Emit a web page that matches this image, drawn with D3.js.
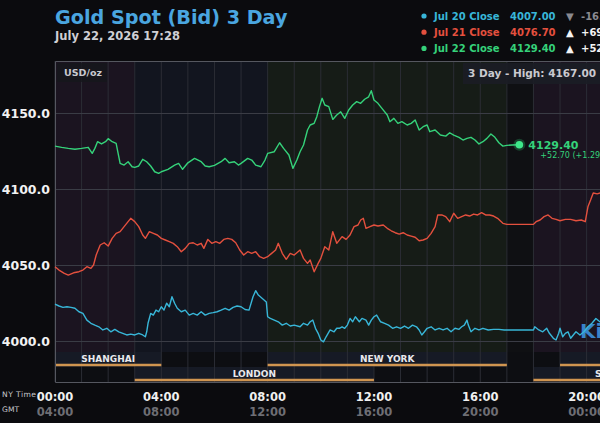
<!DOCTYPE html>
<html>
<head>
<meta charset="utf-8">
<script src="https://cdn.jsdelivr.net/npm/d3@7"></script>
<style>
  body { margin: 0; background: #0b0b0e; }
  svg { display: block; font-family: "DejaVu Sans", sans-serif; }
</style>
</head>
<body>
<svg id="chart" width="600" height="423"></svg>
<script>
// ---- data (hours are NY time since 00:00) ----
const jul20 = [[0,4024.4],[0.15,4023.1],[0.3,4022.2],[0.45,4022.6],[0.6,4022.2],[0.75,4021.6],[0.9,4019.3],[1.05,4018.2],[1.2,4013.8],[1.35,4011.7],[1.5,4010.5],[1.65,4009.4],[1.8,4007.3],[1.95,4008.4],[2.1,4006.1],[2.25,4007.7],[2.4,4006.1],[2.55,4005.1],[2.7,4004],[2.85,4004.6],[3,4004],[3.15,4005.1],[3.3,4004],[3.4,4002.8],[3.45,4006.1],[3.5,4011.7],[3.6,4018.2],[3.7,4017.1],[3.8,4020.4],[3.9,4019.3],[4,4022.6],[4.1,4020.4],[4.2,4024.9],[4.3,4022.6],[4.4,4029.2],[4.5,4024.9],[4.6,4021.6],[4.75,4019.3],[4.9,4020.4],[5.05,4017.1],[5.2,4018.2],[5.35,4017.1],[5.5,4019.3],[5.65,4017.1],[5.8,4018.2],[5.95,4018.7],[6.1,4019.3],[6.25,4020.4],[6.4,4021.6],[6.55,4020.4],[6.7,4022.2],[6.85,4023.1],[7,4022.6],[7.15,4020.8],[7.3,4020.4],[7.45,4029.2],[7.55,4033.2],[7.65,4030.3],[7.8,4028.1],[7.95,4025.8],[8,4016],[8.1,4014.9],[8.25,4013.8],[8.4,4012.7],[8.55,4010.5],[8.7,4011.7],[8.85,4009.9],[9,4010.5],[9.22,4009.4],[9.35,4011.7],[9.5,4010.5],[9.6,4012.7],[9.7,4013.8],[9.8,4008.4],[9.9,4005.1],[10,4000.7],[10.1,3999.5],[10.2,4002.8],[10.35,4007.3],[10.5,4006.1],[10.6,4008.4],[10.7,4008.4],[10.8,4009.4],[10.9,4008.4],[11,4010.5],[11.1,4014.9],[11.2,4012.7],[11.3,4016],[11.45,4012.7],[11.55,4014.9],[11.7,4013.8],[11.8,4010.5],[11.9,4013.8],[12,4016],[12.1,4017.1],[12.25,4012.7],[12.4,4011.7],[12.55,4010.5],[12.7,4008.4],[12.85,4009.4],[13,4008.4],[13.15,4009.9],[13.3,4008.4],[13.45,4010.5],[13.6,4009.4],[13.7,4007.3],[13.8,4004],[13.9,4006.1],[14,4008.4],[14.15,4009.4],[14.3,4007.3],[14.45,4008.4],[14.6,4007.3],[14.75,4008.4],[14.9,4006.1],[15.05,4008.4],[15.2,4007.7],[15.3,4009.4],[15.4,4010.5],[15.5,4013.8],[15.55,4010.5],[15.65,4006.1],[15.8,4008.4],[15.95,4007.3],[16.1,4008.4],[16.3,4007.3],[16.5,4007.7],[16.7,4007.7],[16.9,4007.3],[18,4007.3],[18.05,4009.4],[18.2,4007.3],[18.35,4006.1],[18.5,4008.4],[18.6,4005.1],[18.75,4001.8],[18.85,4000.7],[18.95,4005.1],[19,4008.4],[19.1,4002.8],[19.2,4005.1],[19.3,4006.1],[19.4,4001.8],[19.5,4004],[19.6,4006.1],[19.75,4004],[19.9,4006.1],[20.05,4009.4],[20.2,4011.7],[20.35,4014.9],[20.5,4012.7],[20.7,4013.5]];

const jul21 = [[0,4049],[0.15,4046.8],[0.35,4044.6],[0.5,4043.5],[0.7,4045],[0.9,4045.7],[1.05,4046.8],[1.2,4049],[1.35,4047.9],[1.45,4050.1],[1.55,4056.7],[1.7,4063.3],[1.85,4064.8],[2,4062.6],[2.15,4067.7],[2.3,4071],[2.45,4072.1],[2.6,4075.4],[2.75,4078.7],[2.85,4080.9],[3,4078.7],[3.15,4075.4],[3.3,4069.9],[3.4,4067.7],[3.55,4072.1],[3.7,4071],[3.85,4069.9],[4,4067.7],[4.15,4066.6],[4.3,4065.5],[4.45,4064.4],[4.6,4062.2],[4.75,4058.9],[4.9,4061.1],[5.05,4064.4],[5.2,4064.8],[5.35,4063.3],[5.5,4064.4],[5.6,4061.1],[5.75,4067],[5.9,4064.4],[6.05,4065.5],[6.2,4064.4],[6.35,4067],[6.5,4067.7],[6.65,4067],[6.8,4064.8],[6.95,4060],[7.1,4056.7],[7.25,4058.9],[7.4,4057.8],[7.55,4058.9],[7.7,4055.6],[7.85,4054.5],[8,4055.6],[8.15,4057.8],[8.3,4060],[8.4,4064.4],[8.55,4057.8],[8.7,4053.9],[8.85,4057.8],[9,4056.7],[9.22,4060],[9.35,4054.5],[9.5,4051.2],[9.6,4053.4],[9.75,4045.7],[9.9,4051.2],[10,4054.5],[10.15,4062.2],[10.3,4060],[10.45,4072.1],[10.6,4064.4],[10.8,4068.8],[10.95,4067],[11.1,4069.9],[11.25,4075.4],[11.4,4076.5],[11.5,4079.8],[11.6,4080.9],[11.7,4074.3],[11.85,4075.4],[12,4076.5],[12.15,4075.8],[12.35,4076.5],[12.5,4074.3],[12.65,4072.7],[12.8,4071.4],[12.95,4070.5],[13.1,4071.4],[13.25,4069.9],[13.4,4069.2],[13.55,4068.4],[13.7,4066.1],[13.85,4066.6],[14,4067.7],[14.15,4071],[14.3,4075.4],[14.4,4083.1],[14.55,4083.1],[14.7,4082],[14.85,4078.7],[15,4084.2],[15.15,4080.9],[15.3,4082],[15.45,4083.1],[15.6,4082.4],[15.75,4083.7],[15.9,4083.1],[16.05,4084.6],[16.2,4083.1],[16.35,4083.1],[16.5,4082.4],[16.65,4080.9],[16.85,4077.6],[17,4076.9],[18,4076.9],[18.1,4078.7],[18.25,4079.8],[18.4,4082],[18.55,4083.1],[18.7,4080.9],[18.85,4080.2],[19,4079.3],[19.2,4080.2],[19.4,4080.2],[19.6,4079.3],[19.8,4079.8],[19.95,4078.7],[20.05,4088.5],[20.15,4092.9],[20.25,4097.6],[20.4,4097],[20.6,4098],[20.8,4097.5]];

const jul22 = [[0,4128.5],[0.25,4127.7],[0.5,4127],[0.75,4126.4],[1,4127],[1.25,4127.7],[1.4,4123.7],[1.5,4127],[1.6,4131.4],[1.75,4129.9],[1.9,4131.4],[2,4133.4],[2.15,4131.4],[2.3,4130.3],[2.45,4117.1],[2.6,4116],[2.75,4118.2],[2.9,4114.9],[3,4114.5],[3.15,4115.4],[3.3,4119.8],[3.45,4118.2],[3.6,4115.4],[3.75,4111.6],[3.9,4110.5],[4,4111.6],[4.25,4113.2],[4.5,4116],[4.65,4117.1],[4.8,4113.2],[5,4117.5],[5.25,4120.4],[5.5,4118.2],[5.65,4115.4],[5.8,4114.9],[6,4115.8],[6.25,4118.2],[6.4,4120.4],[6.55,4117.5],[6.75,4118.2],[6.9,4116],[7,4117.1],[7.25,4120.4],[7.4,4119.3],[7.55,4116],[7.75,4114.9],[7.9,4119.3],[8,4123.7],[8.25,4124.8],[8.45,4130.7],[8.6,4127],[8.8,4122.6],[8.95,4113.8],[9.1,4119.3],[9.22,4124.8],[9.35,4129.2],[9.5,4139.1],[9.6,4142.4],[9.75,4143.5],[9.85,4147.9],[9.95,4154.5],[10.05,4160],[10.15,4155.6],[10.3,4154.5],[10.45,4146.1],[10.6,4149],[10.75,4151.1],[10.9,4146.8],[11.05,4152.3],[11.2,4155.6],[11.35,4157.8],[11.5,4156.7],[11.65,4159.4],[11.8,4161],[11.9,4165],[12,4158.9],[12.15,4156.7],[12.3,4153.4],[12.5,4149],[12.6,4144.6],[12.75,4146.8],[12.9,4143.5],[13.05,4144.6],[13.25,4142.4],[13.4,4143.5],[13.55,4145.7],[13.7,4139.1],[13.85,4141.3],[14,4142.4],[14.1,4138],[14.3,4139.1],[14.5,4135.8],[14.7,4135.1],[14.85,4137.3],[15,4135.8],[15.2,4134.3],[15.35,4132.5],[15.5,4133.6],[15.65,4134.3],[15.8,4132.5],[15.95,4129.9],[16.1,4131.4],[16.25,4133.6],[16.4,4136.5],[16.55,4134.3],[16.7,4130.7],[16.85,4128.5],[17,4129],[17.2,4129.2],[17.47,4129.4]];

const seriesNames = ["Jul 20 Close", "Jul 21 Close", "Jul 22 Close"];
const closes = [4007.00, 4076.70, 4129.40];
const prevClose = 4023.00;
const yTicks = [4000, 4050, 4100, 4150];
const xTicks = [0, 4, 8, 12, 16, 20];
const gmtOffset = 4;
const threeDayHigh = 4167.00;

// background periods and trading sessions (hours)
const periods = [
  { from: 0, to: 3, kind: "asia" },
  { from: 3, to: 8, kind: "london" },
  { from: 8, to: 17, kind: "ny" },
  { from: 17, to: 18, kind: "closed" },
  { from: 18, to: 24, kind: "asia" }
];
const sessions = [
  { name: "SHANGHAI", from: 0, to: 4, lane: 0, at: 2 },
  { name: "LONDON", from: 3, to: 12, lane: 1, at: 7.5 },
  { name: "NEW YORK", from: 8, to: 17, lane: 0, at: 12.5 },
  { name: "SHANGHAI", from: 19, to: 24, lane: 0, at: 21.6 },
  { name: "ST", from: 18, to: 24, lane: 1, at: 20.55 }
];

// ---- layout ----
const svg = d3.select("#chart");
const W = 600, H = 423;
const plotL = 55, plotT = 61, plotB = 382, stripT = 352;

const x = d3.scaleLinear().domain([0, 24]).range([plotL, plotL + 24 * 26.58]);
const y = d3.scaleLinear().domain([3973, 4184.6]).range([plotB, plotT]);

const colors = ["#38b6d8", "#e4503e", "#35d27a"];
const periodColor = { asia: "#1b1420", london: "#12151f", ny: "#161c17", closed: "#0f1013" };

svg.append("rect").attr("width", W).attr("height", H).attr("fill", "#0b0b0e");

// period bands
svg.append("g").selectAll("rect")
  .data(periods).enter().append("rect")
  .attr("x", d => x(d.from)).attr("width", d => x(d.to) - x(d.from))
  .attr("y", plotT).attr("height", plotB - plotT)
  .attr("fill", d => periodColor[d.kind]);

// session strip
const strip = svg.append("g");
strip.append("rect").attr("x", plotL).attr("y", stripT)
  .attr("width", x(24) - plotL).attr("height", plotB - stripT)
  .attr("fill", "#0d0e12");
strip.selectAll("rect.cell")
  .data(sessions).enter().append("rect").attr("class", "cell")
  .attr("x", d => x(d.from)).attr("width", d => x(d.to) - x(d.from))
  .attr("y", d => stripT + d.lane * 15).attr("height", 15)
  .attr("fill", "#161a25");

// grid
const grid = svg.append("g");
grid.selectAll("line.v")
  .data(d3.range(0, 25)).enter().append("line").attr("class", "v")
  .attr("x1", d => x(d)).attr("x2", d => x(d))
  .attr("y1", plotT).attr("y2", plotB)
  .attr("stroke", "#2b2d35").attr("stroke-width", 1);
grid.selectAll("line.h")
  .data(yTicks).enter().append("line").attr("class", "h")
  .attr("x1", plotL).attr("x2", W)
  .attr("y1", d => Math.round(y(d)) + 0.5).attr("y2", d => Math.round(y(d)) + 0.5)
  .attr("stroke", "#3a3c45").attr("stroke-width", 1);

// session bars + labels
const bars = svg.append("g");
bars.selectAll("line")
  .data(sessions).enter().append("line")
  .attr("x1", d => x(d.from)).attr("x2", d => x(d.to))
  .attr("y1", d => stripT + 13 + d.lane * 15).attr("y2", d => stripT + 13 + d.lane * 15)
  .attr("stroke", "#d09550").attr("stroke-width", 2.5);
bars.selectAll("text")
  .data(sessions).enter().append("text")
  .attr("x", d => x(d.at)).attr("y", d => stripT + 10 + d.lane * 15)
  .attr("text-anchor", "middle")
  .attr("fill", "#e8e8ec").attr("font-size", 9).attr("font-weight", "bold")
  .text(d => d.name);

// frame
svg.append("path")
  .attr("d", `M${W},${plotT + 0.5}H${plotL + 0.5}V${plotB + 0.5}H${W}`)
  .attr("fill", "none").attr("stroke", "#55575f").attr("stroke-width", 1);

// y labels
svg.append("g").selectAll("text")
  .data(yTicks).enter().append("text")
  .attr("x", 50).attr("y", d => y(d) + 5)
  .attr("text-anchor", "end")
  .attr("fill", "#f2f2f2").attr("font-size", 12.5).attr("font-weight", "bold")
  .text(d => d3.format(".1f")(d));

// x labels
const fmtH = h => String(h % 24).padStart(2, "0") + ":00";
svg.append("g").selectAll("text")
  .data(xTicks).enter().append("text")
  .attr("x", d => x(d)).attr("y", 401)
  .attr("text-anchor", "middle")
  .attr("fill", "#f0f0f0").attr("font-size", 11.5).attr("font-weight", "bold")
  .text(d => fmtH(d));
svg.append("g").selectAll("text")
  .data(xTicks).enter().append("text")
  .attr("x", d => x(d)).attr("y", 416)
  .attr("text-anchor", "middle")
  .attr("fill", "#6e6e74").attr("font-size", 11.5).attr("font-weight", "bold")
  .text(d => fmtH(d + gmtOffset));
svg.append("text").attr("x", 2).attr("y", 397).attr("fill", "#c8c8cc")
  .attr("font-size", 7.6).attr("textLength", 34).text("NY Time");
svg.append("text").attr("x", 2).attr("y", 412).attr("fill", "#c8c8cc")
  .attr("font-size", 7.6).text("GMT");

// watermark
svg.append("text").attr("x", 580).attr("y", 338)
  .attr("fill", "#3d90dc").attr("font-size", 20).attr("font-weight", "bold")
  .attr("opacity", 0.9).text("Kitco");

// lines
const line = d3.line().x(d => x(d[0])).y(d => y(d[1]));
const lines = svg.append("g").attr("fill", "none").attr("stroke-width", 1.4)
  .attr("stroke-linejoin", "round");
[jul20, jul21, jul22].forEach((s, i) => {
  lines.append("path").datum(s).attr("d", line).attr("stroke", colors[i]);
});

// end marker for current day
const last = jul22[jul22.length - 1];
svg.append("circle").attr("cx", x(last[0])).attr("cy", y(last[1])).attr("r", 6)
  .attr("fill", colors[2]).attr("opacity", 0.25);
svg.append("circle").attr("cx", x(last[0])).attr("cy", y(last[1])).attr("r", 3.8)
  .attr("fill", "#3ee88a");
const chg = closes[2] - closes[1];
svg.append("text").attr("x", x(last[0]) + 9).attr("y", y(last[1]) + 4)
  .attr("fill", colors[2]).attr("font-size", 11).attr("font-weight", "bold")
  .text(closes[2].toFixed(2));
svg.append("text").attr("x", x(last[0]) + 21).attr("y", y(last[1]) + 13)
  .attr("fill", colors[2]).attr("font-size", 8)
  .text(`+${chg.toFixed(2)} (+${(chg / closes[1] * 100).toFixed(2)}%)`);

// corner boxes
svg.append("rect").attr("x", 57).attr("y", 63).attr("width", 50).attr("height", 19)
  .attr("fill", "#15161c").attr("opacity", 0.8);
svg.append("text").attr("x", 64).attr("y", 76).attr("fill", "#c9c9cf")
  .attr("font-size", 9.5).attr("font-weight", "bold").text("USD/oz");
svg.append("rect").attr("x", 463).attr("y", 63).attr("width", 140).attr("height", 21)
  .attr("fill", "#1b1d25").attr("opacity", 0.9);
svg.append("text").attr("x", 468).attr("y", 77).attr("fill", "#c9c9cf")
  .attr("font-size", 10.5).attr("font-weight", "bold")
  .text(`3 Day - High: ${threeDayHigh.toFixed(2)}`);

// title
svg.append("text").attr("x", 55).attr("y", 24).attr("fill", "#4aa6e0")
  .attr("font-size", 19.2).attr("font-weight", "bold").text("Gold Spot (Bid) 3 Day");
svg.append("text").attr("x", 55).attr("y", 39.5).attr("fill", "#cfcfd4")
  .attr("font-size", 11.5).attr("font-weight", "bold").text("July 22, 2026 17:28");

// legend
const prev = [prevClose, closes[0], closes[1]];
const leg = svg.append("g").selectAll("g")
  .data(seriesNames).enter().append("g")
  .attr("transform", (d, i) => `translate(0,${16 + i * 16.2})`);
leg.append("circle").attr("cx", 424).attr("cy", 0).attr("r", 2.6)
  .attr("fill", (d, i) => colors[i]);
leg.append("text").attr("x", 434).attr("y", 4)
  .attr("fill", (d, i) => colors[i]).attr("font-size", 10).attr("font-weight", "bold")
  .text(d => d);
leg.append("text").attr("x", 510).attr("y", 4)
  .attr("fill", (d, i) => colors[i]).attr("font-size", 10).attr("font-weight", "bold")
  .text((d, i) => closes[i].toFixed(2));
leg.append("text").attr("x", 566).attr("y", 4)
  .attr("fill", (d, i) => closes[i] < prev[i] ? "#8a8a90" : "#f4f4f4")
  .attr("font-size", 10).text((d, i) => closes[i] < prev[i] ? "\u25BC" : "\u25B2");
leg.append("text").attr("x", 581).attr("y", 4)
  .attr("fill", (d, i) => closes[i] < prev[i] ? "#8a8a90" : "#f4f4f4")
  .attr("font-size", 10).attr("font-weight", "bold")
  .text((d, i) => {
    const c = closes[i] - prev[i];
    return (c < 0 ? "" : "+") + c.toFixed(2);
  });
</script>
</body>
</html>
